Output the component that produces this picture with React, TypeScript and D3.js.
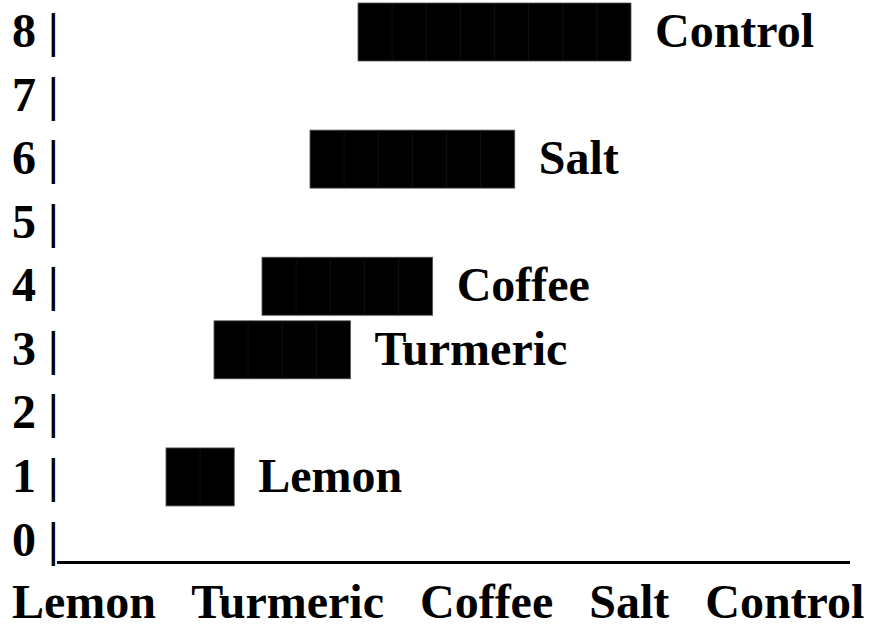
import React from 'react';
import * as d3 from 'd3';

const categories = ['Lemon', 'Turmeric', 'Coffee', 'Salt', 'Control'];
const rowValues = [1, 3, 4, 6, 8];
const blockCounts = [2, 4, 5, 6, 8];
const yTicks = [0, 1, 2, 3, 4, 5, 6, 7, 8];

const width = 870;
const height = 627;
const fontSize = 48;
const font = "'Liberation Serif', 'Times New Roman', serif";

export default function App() {
  // baseline of each text row
  const y = d3.scaleLinear().domain([0, 8]).range([555.5, 47]);
  // bars start one step further right for each category
  const xStart = d3.scaleLinear().domain([0, categories.length - 1]).range([166, 358]);
  // one block is one character cell
  const w = d3.scaleLinear().domain([0, 8]).range([0, 273]);
  const blockW = w(1) - w(0);

  const bars = categories.map((name, i) => ({
    name,
    row: rowValues[i],
    blocks: blockCounts[i],
    x0: xStart(i),
  }));

  return (
    <svg
      width={width}
      height={height}
      style={{ position: 'absolute', left: 0, top: 0, background: '#fff' }}
      fontFamily={font}
      fontWeight="bold"
      fontSize={fontSize}
    >
      <g key="y-ticks">
        {yTicks.map((t) => (
          <text key={`tick-${t}`} x={12} y={y(t)} fill="#000">{`${t} |`}</text>
        ))}
      </g>
      <line x1={57} x2={850} y1={y(0) + 7} y2={y(0) + 7} stroke="#000" strokeWidth={3} />
      <g key="bars">
        {bars.map((d) => (
          <g key={`bar-${d.name}`}>
            <rect
              x={d.x0}
              y={y(d.row) - 44}
              width={w(d.blocks)}
              height={58}
              fill="#000"
              stroke="#555"
              strokeWidth={0.8}
            />
            {d3.range(1, d.blocks).map((k) => (
              <line
                key={`div-${d.name}-${k}`}
                x1={d.x0 + w(k)}
                x2={d.x0 + w(k)}
                y1={y(d.row) - 44}
                y2={y(d.row) + 14}
                stroke="#1c1c1c"
                strokeWidth={0.6}
              />
            ))}
            <text x={d.x0 + w(d.blocks) + 24} y={y(d.row)} fill="#000">{d.name}</text>
          </g>
        ))}
      </g>
      <text x={12} y={618} fill="#000" style={{ whiteSpace: 'pre' }}>
        {categories.join('   ')}
      </text>
    </svg>
  );
}
